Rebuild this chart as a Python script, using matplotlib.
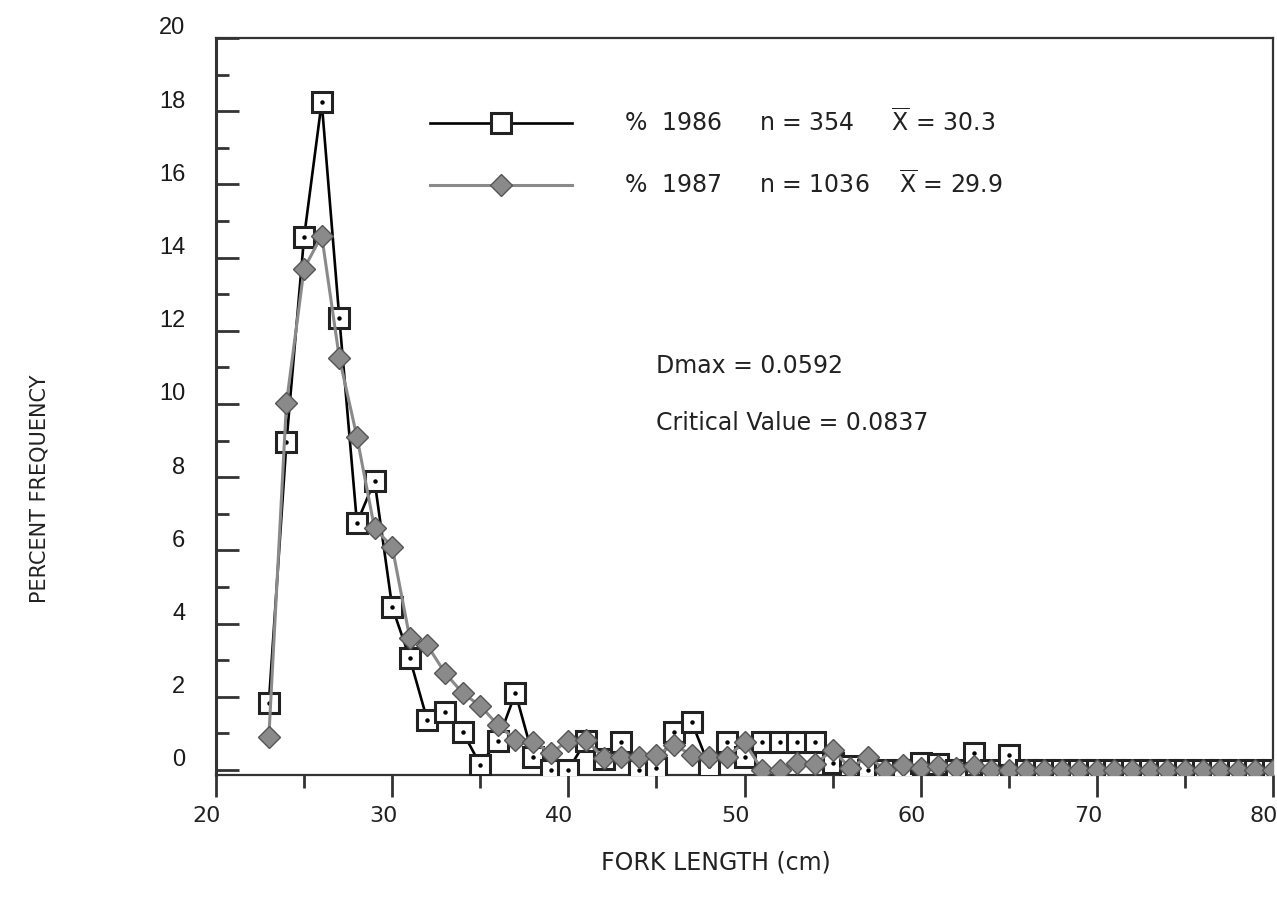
import numpy as np
import matplotlib.pyplot as plt
import matplotlib.transforms as mtransforms

# fork length classes (cm)
fork_length = np.arange(23, 81)

# percent frequency, 1986 sample (squares)
pct_1986 = [1.83, 8.96, 14.56, 18.25, 12.35, 6.75, 7.9, 4.45, 3.05, 1.35,
            1.58, 1.04, 0.14, 0.8, 2.1, 0.36, 0.0, 0.0, 0.8, 0.3,
            0.77, 0.0, 0.05, 1.04, 1.31, 0.1, 0.77, 0.36, 0.77, 0.77,
            0.77, 0.77, 0.2, 0.1, 0.0, 0.0, 0.0, 0.2, 0.15, 0.0,
            0.45, 0.0, 0.4, 0.0, 0.0, 0.0, 0.0, 0.0, 0.0, 0.0,
            0.0, 0.0, 0.0, 0.0, 0.0, 0.0, 0.0, 0.0]

# percent frequency, 1987 sample (diamonds)
pct_1987 = [0.9, 10.03, 13.7, 14.6, 11.26, 9.1, 6.6, 6.1, 3.6, 3.4,
            2.65, 2.1, 1.75, 1.23, 0.82, 0.77, 0.46, 0.8, 0.82, 0.33,
            0.36, 0.36, 0.41, 0.68, 0.41, 0.36, 0.36, 0.75, 0.0, 0.0,
            0.2, 0.15, 0.55, 0.05, 0.36, 0.0, 0.14, 0.05, 0.1, 0.05,
            0.1, 0.0, 0.0, 0.0, 0.0, 0.0, 0.0, 0.0, 0.0, 0.0,
            0.0, 0.0, 0.0, 0.0, 0.0, 0.0, 0.0, 0.0]

label_1986 = '%  1986     n = 354     $\\overline{\\mathrm{X}}$ = 30.3'
label_1987 = '%  1987     n = 1036    $\\overline{\\mathrm{X}}$ = 29.9'
ks_text = ['Dmax = 0.0592', 'Critical Value = 0.0837']

x_ticks = [20, 30, 40, 50, 60, 70, 80]
y_ticks = list(range(0, 21, 2))


def PlotForkLength():
    fig = plt.figure(figsize=(12.77, 9.08), dpi=100)
    ax = fig.add_axes([216 / 1277, 1 - 775 / 908, 1057 / 1277, 737 / 908])

    ax.plot(fork_length, pct_1986, color='black', lw=1.9, marker='s',
            markersize=15, markerfacecolor='white', markeredgecolor='#222222',
            markeredgewidth=2.2, zorder=3, label=label_1986)
    ax.plot(fork_length, pct_1986, ls='none', marker='o', markersize=2.2,
            color='black', zorder=3.1)
    ax.plot(fork_length, pct_1987, color='#8a8a8a', lw=2.2, marker='D',
            markersize=11.5, markerfacecolor='#8a8a8a', markeredgecolor='#555555',
            markeredgewidth=1.0, zorder=4, label=label_1987)

    ax.set_xlim(20, 80)
    ax.set_ylim(-0.14, 20.0)
    ax.set_xticks(x_ticks)
    ax.set_xticks(np.arange(25, 80, 10), minor=True)
    ax.set_yticks(y_ticks)
    ax.set_yticks(np.arange(1, 20, 2), minor=True)

    for side in ['top', 'right', 'bottom']:
        ax.spines[side].set_linewidth(1.6)
        ax.spines[side].set_color('#333333')
    ax.spines['left'].set_linewidth(2.2)
    ax.spines['left'].set_color('#333333')

    ax.tick_params(axis='y', which='major', direction='in', length=16.5,
                   width=2, color='#333333', pad=22)
    ax.tick_params(axis='y', which='minor', direction='in', length=9.5,
                   width=2, color='#333333')
    ax.tick_params(axis='x', which='major', direction='out', length=16,
                   width=2, color='#333333', pad=6)
    ax.tick_params(axis='x', which='minor', direction='out', length=9,
                   width=2, color='#333333')

    for lab in ax.get_yticklabels():
        lab.set_fontfamily('Liberation Sans')
        lab.set_fontsize(17)
        lab.set_color('#1a1a1a')
        lab.set_transform(lab.get_transform() +
                          mtransforms.ScaledTranslation(0, 0.12, fig.dpi_scale_trans))
    for lab in ax.get_xticklabels():
        lab.set_fontfamily('DejaVu Sans')
        lab.set_fontsize(16)
        lab.set_color('#222222')
        lab.set_transform(lab.get_transform() +
                          mtransforms.ScaledTranslation(-0.09, 0, fig.dpi_scale_trans))

    ax.set_xlabel('FORK LENGTH (cm)', fontsize=17, color='#222222')
    ax.xaxis.label.set_va('center')
    ax.xaxis.set_label_coords(0.4725, -0.1184)
    ax.set_ylabel('PERCENT FREQUENCY', fontsize=15, color='#222222')
    ax.yaxis.label.set_va('center')
    ax.yaxis.set_label_coords(-0.1667, 0.3878)

    ax.text(45, 11.04, ks_text[0], fontsize=17, color='#222222', va='center')
    ax.text(45, 9.48, ks_text[1], fontsize=17, color='#222222', va='center')

    ax.legend(loc='upper left', bbox_to_anchor=(0.2027, 0.905), frameon=False,
              fontsize=17, handlelength=6.0, handletextpad=2.2,
              labelspacing=1.45, borderpad=0, borderaxespad=0,
              labelcolor='#222222')

    plt.savefig('out.png', dpi=100)


if __name__ == "__main__":
    PlotForkLength()
